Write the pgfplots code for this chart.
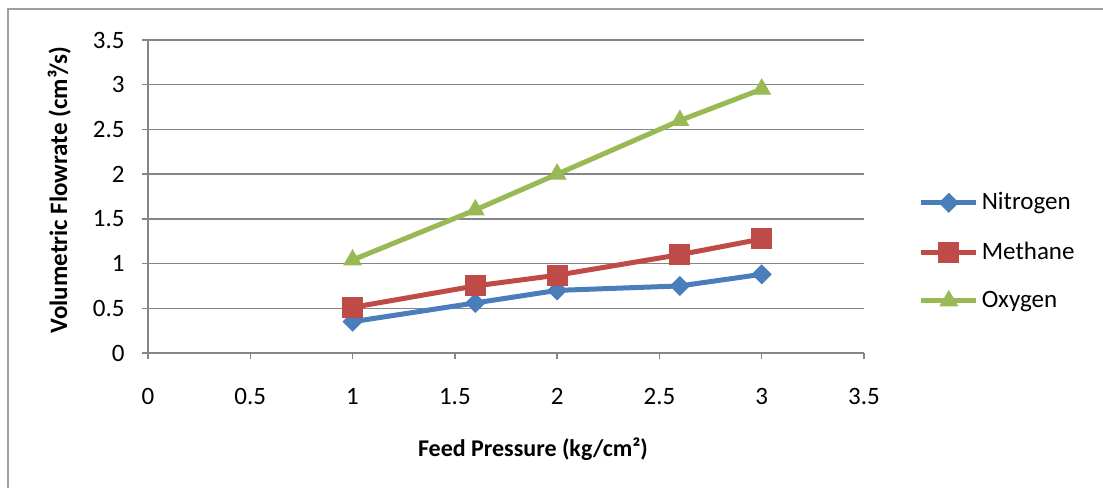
\documentclass[border=0pt]{standalone}
\usepackage{fontspec}
\setmainfont{Carlito}
\usepackage{pgfplots}
\pgfplotsset{compat=1.18}
\definecolor{nblue}{HTML}{4A7EBB}
\definecolor{mred}{HTML}{BE4B48}
\definecolor{ogreen}{HTML}{98B954}
\definecolor{gridc}{HTML}{868686}
\begin{document}
\begin{tikzpicture}
\useasboundingbox (0,0) rectangle (551.5pt,244pt);
\draw[gridc!80, line width=0.8pt] (4pt,0) -- (4pt,239.5pt) -- (551.5pt,239.5pt);
\begin{axis}[
  at={(74pt,67.5pt)}, anchor=south west,
  scale only axis, width=358pt, height=156.5pt,
  xmin=0, xmax=3.5, ymin=0, ymax=3.5,
  xtick={0,0.5,1,1.5,2,2.5,3,3.5},
  ytick={0,0.5,1,1.5,2,2.5,3,3.5},
  xticklabels={0,0.5,1,1.5,2,2.5,3,3.5},
  yticklabels={0,0.5,1,1.5,2,2.5,3,3.5},
  axis x line=bottom, axis y line=left,
  axis line style={gridc, line width=0.75pt, -},
  ymajorgrids, grid style={gridc, line width=0.75pt},
  tick style={gridc, line width=0.75pt},
  tick align=outside, major tick length=3pt,
  ticklabel style={font=\fontsize{12.5}{14}\selectfont, text=black},
  xticklabel style={anchor=base, inner sep=0pt, yshift=-22.5pt},
  yticklabel style={anchor=east, inner sep=0pt, xshift=-8.5pt},
  clip=false,
  legend style={at={(1.076,0.324)}, anchor=west, draw=none, fill=none,
    inner sep=0pt, row sep=11.5pt, font=\fontsize{12.5}{14}\selectfont,
    nodes={inner sep=1.5pt}},
  legend cell align=left,
  legend image code/.code={%
    \draw[mark repeat=2,mark phase=2] plot coordinates {(0pt,0pt) (13.75pt,0pt) (27.5pt,0pt)};},
  every axis plot/.append style={line width=2.5pt},
]
\addplot[nblue, mark=square*, mark size=3.3pt, mark options={rotate=45, line width=0.5pt}]
  coordinates {(1,0.35) (1.6,0.56) (2,0.70) (2.6,0.75) (3,0.88)};
\addlegendentry{Nitrogen}
\addplot[mred, mark=square*, mark size=5pt, mark options={line width=0.5pt}]
  coordinates {(1,0.51) (1.6,0.75) (2,0.87) (2.6,1.10) (3,1.275)};
\addlegendentry{Methane}
\addplot[ogreen, mark=triangle*, mark size=5pt, mark options={line width=0.5pt}]
  coordinates {(1,1.04) (1.6,1.60) (2,2.00) (2.6,2.60) (3,2.95)};
\addlegendentry{Oxygen}
\end{axis}
\node[anchor=base, font=\bfseries\fontsize{12}{14}\selectfont] at (266.5pt,16pt) {Feed Pressure (kg/cm²)};
\node[anchor=base, rotate=90, font=\bfseries\fontsize{12.5}{14}\selectfont] at (33.5pt,149pt) {Volumetric Flowrate (cm³/s)};
\end{tikzpicture}
\end{document}
